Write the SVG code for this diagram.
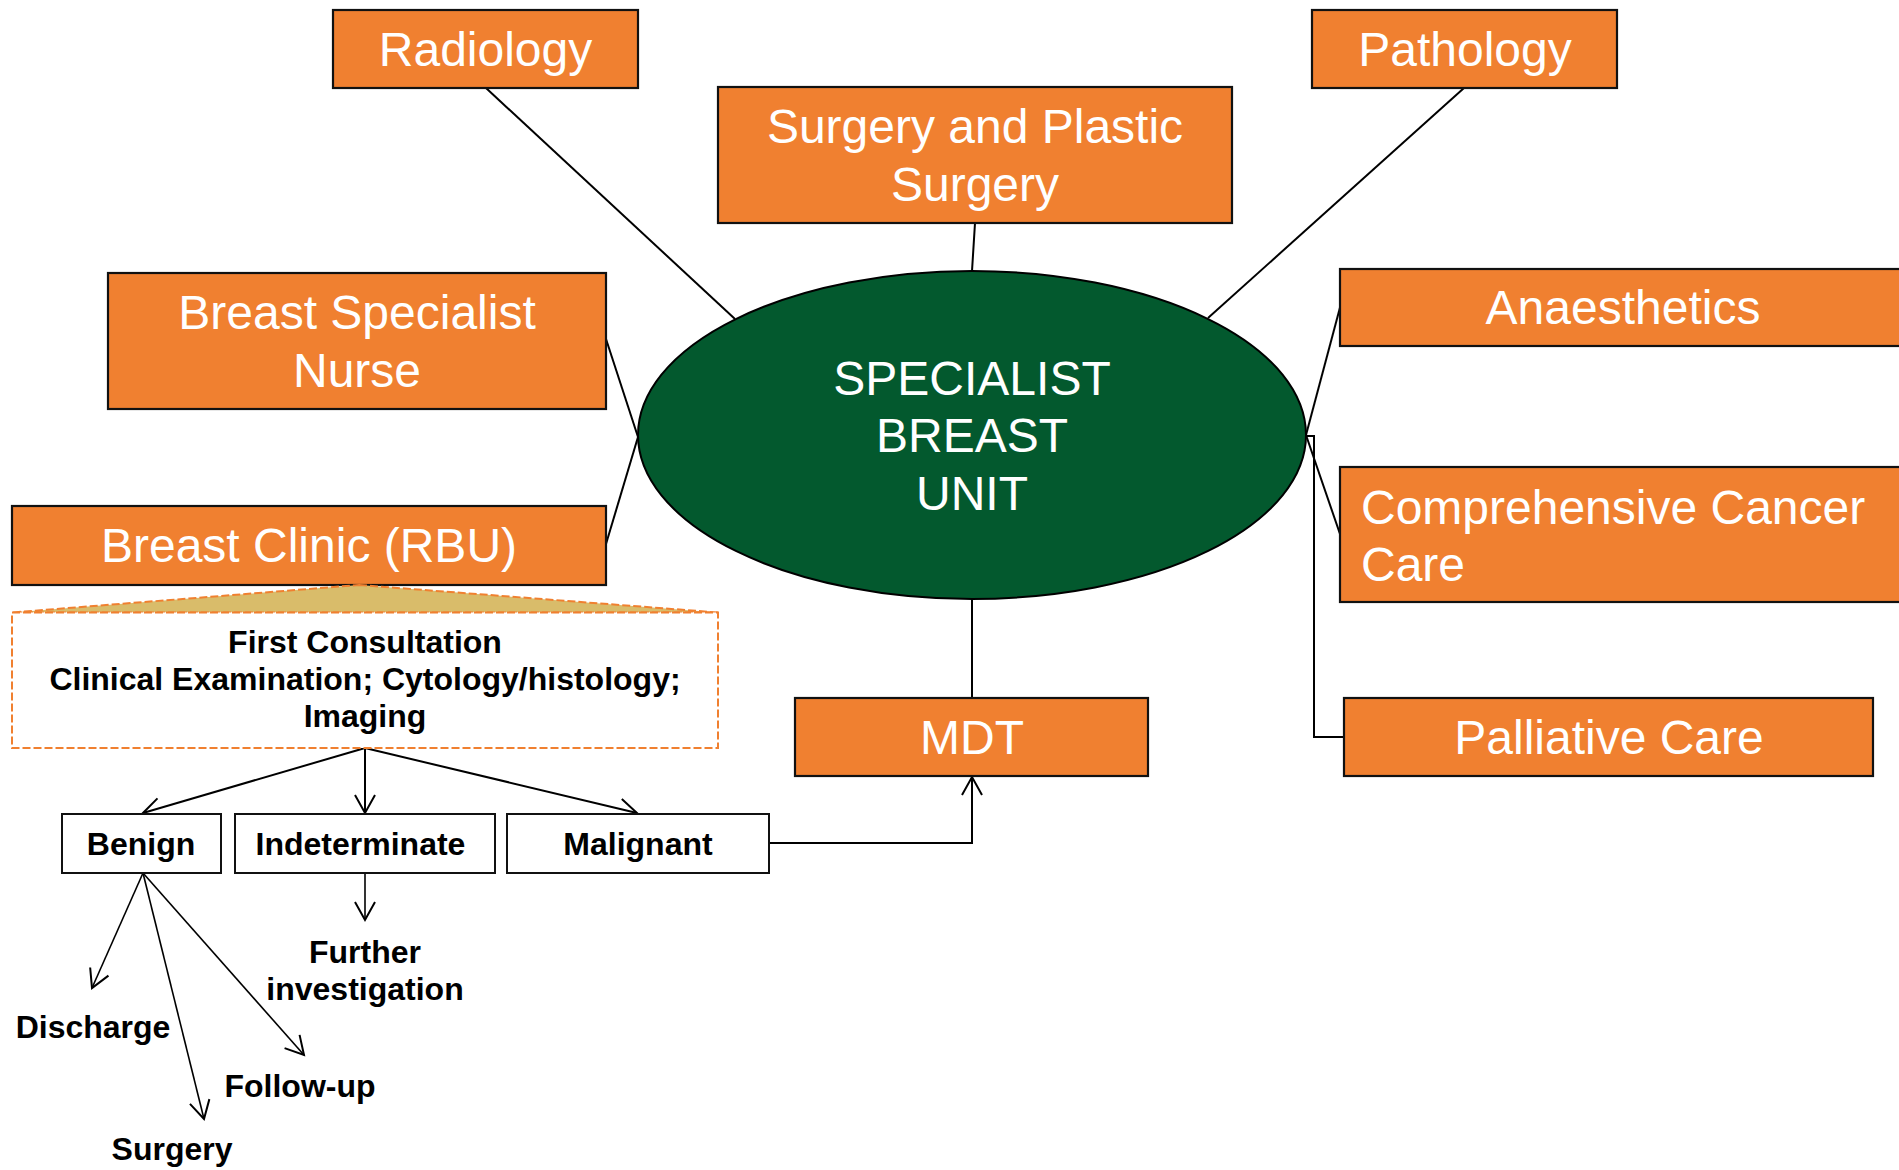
<svg xmlns="http://www.w3.org/2000/svg" width="1899" height="1170" viewBox="0 0 1899 1170">
<defs>
<style>
.box{fill:#F08030;stroke:#111;stroke-width:2.2}
.wt{font-family:"Liberation Sans",Arial,sans-serif;font-size:48px;fill:#fff;text-anchor:middle}
.bt{font-family:"Liberation Sans",Arial,sans-serif;font-size:32px;font-weight:bold;fill:#000;text-anchor:middle}
.wbox{fill:#fff;stroke:#111;stroke-width:2}
.ln{fill:none;stroke:#000;stroke-width:2}
.thin{fill:none;stroke:#000;stroke-width:1.6}
.dash{stroke:#F08030;stroke-width:2;stroke-dasharray:8 3}
</style>
<marker id="arr" markerUnits="userSpaceOnUse" viewBox="-22 -13 24 26" markerWidth="24" markerHeight="26" refX="0" refY="0" orient="auto" overflow="visible">
<path d="M-18,-10 L0,0 L-18,10" fill="none" stroke="#000" stroke-width="2"/>
</marker>
</defs>
<rect width="1899" height="1170" fill="#fff"/>
<g id="connectors">
<line class="ln" x1="486" y1="88" x2="735" y2="319"/>
<line class="ln" x1="975" y1="223" x2="972" y2="271"/>
<line class="ln" x1="1464" y1="88" x2="1208" y2="318"/>
<line class="ln" x1="606" y1="339" x2="638" y2="437"/>
<line class="ln" x1="606" y1="544" x2="638" y2="437"/>
<line class="ln" x1="1340" y1="307.5" x2="1306" y2="435"/>
<line class="ln" x1="1306" y1="435" x2="1340" y2="534"/>
<polyline class="ln" points="1306,436 1314,436 1314,737 1344,737"/>
<line class="ln" x1="972" y1="599" x2="972" y2="698"/>
<line class="ln" x1="365" y1="748" x2="143" y2="813" marker-end="url(#arr)"/>
<line class="ln" x1="365" y1="748" x2="365" y2="813" marker-end="url(#arr)"/>
<line class="ln" x1="365" y1="748" x2="637" y2="813" marker-end="url(#arr)"/>
<line class="thin" x1="365" y1="873" x2="365" y2="920" marker-end="url(#arr)"/>
<line class="thin" x1="143" y1="873" x2="92" y2="988" marker-end="url(#arr)"/>
<line class="thin" x1="143" y1="873" x2="204" y2="1119" marker-end="url(#arr)"/>
<line class="thin" x1="143" y1="873" x2="304" y2="1055" marker-end="url(#arr)"/>
<polyline class="ln" points="769,843 972,843 972,777" marker-end="url(#arr)"/>
</g>
<g id="radiology">
<rect class="box" x="333" y="10" width="305" height="78"/>
<text class="wt" x="485.5" y="66">Radiology</text>
</g>
<g id="pathology">
<rect class="box" x="1312" y="10" width="305" height="78"/>
<text class="wt" x="1465" y="66">Pathology</text>
</g>
<g id="surgery-plastic">
<rect class="box" x="718" y="87" width="514" height="136"/>
<text class="wt" x="975" y="143">Surgery and Plastic</text>
<text class="wt" x="975" y="201">Surgery</text>
</g>
<g id="nurse">
<rect class="box" x="108" y="273" width="498" height="136"/>
<text class="wt" x="357" y="329">Breast Specialist</text>
<text class="wt" x="357" y="387">Nurse</text>
</g>
<g id="clinic">
<rect class="box" x="12" y="506" width="594" height="79"/>
<text class="wt" x="309" y="562">Breast Clinic (RBU)</text>
</g>
<g id="unit">
<ellipse cx="972" cy="435" rx="334" ry="164" fill="#03592E" stroke="#000" stroke-width="2"/>
<text class="wt" x="972" y="395">SPECIALIST</text>
<text class="wt" x="972" y="452">BREAST</text>
<text class="wt" x="972" y="510">UNIT</text>
</g>
<g id="anaesthetics">
<rect class="box" x="1340" y="269" width="570" height="77"/>
<text class="wt" x="1623" y="324">Anaesthetics</text>
</g>
<g id="comprehensive">
<rect class="box" x="1340" y="467" width="570" height="135"/>
<text class="wt" x="1361" y="524" style="text-anchor:start">Comprehensive Cancer</text>
<text class="wt" x="1361" y="581" style="text-anchor:start">Care</text>
</g>
<g id="palliative">
<rect class="box" x="1344" y="698" width="529" height="78"/>
<text class="wt" x="1609" y="754">Palliative Care</text>
</g>
<g id="mdt">
<rect class="box" x="795" y="698" width="353" height="78"/>
<text class="wt" x="972" y="754">MDT</text>
</g>
<g id="consultation">
<polygon points="359,585 718,612.5 12,612.5" fill="#D9BC6A" class="dash"/>
<rect x="12" y="612.5" width="706" height="135.5" fill="#fff" class="dash"/>
<text class="bt" x="365" y="653">First Consultation</text>
<text class="bt" x="365" y="690">Clinical Examination; Cytology/histology;</text>
<text class="bt" x="365" y="727">Imaging</text>
</g>
<g id="benign">
<rect class="wbox" x="62" y="814" width="159" height="59"/>
<text class="bt" x="141" y="855">Benign</text>
</g>
<g id="indeterminate">
<rect class="wbox" x="235" y="814" width="260" height="59"/>
<text class="bt" x="360.5" y="855">Indeterminate</text>
</g>
<g id="malignant">
<rect class="wbox" x="507" y="814" width="262" height="59"/>
<text class="bt" x="638" y="855">Malignant</text>
</g>
<g id="further">
<text class="bt" x="365" y="963">Further</text>
<text class="bt" x="365" y="1000">investigation</text>
</g>
<g id="discharge"><text class="bt" x="93" y="1038">Discharge</text></g>
<g id="followup"><text class="bt" x="300" y="1097">Follow-up</text></g>
<g id="surgery-out"><text class="bt" x="172" y="1160">Surgery</text></g>
</svg>
